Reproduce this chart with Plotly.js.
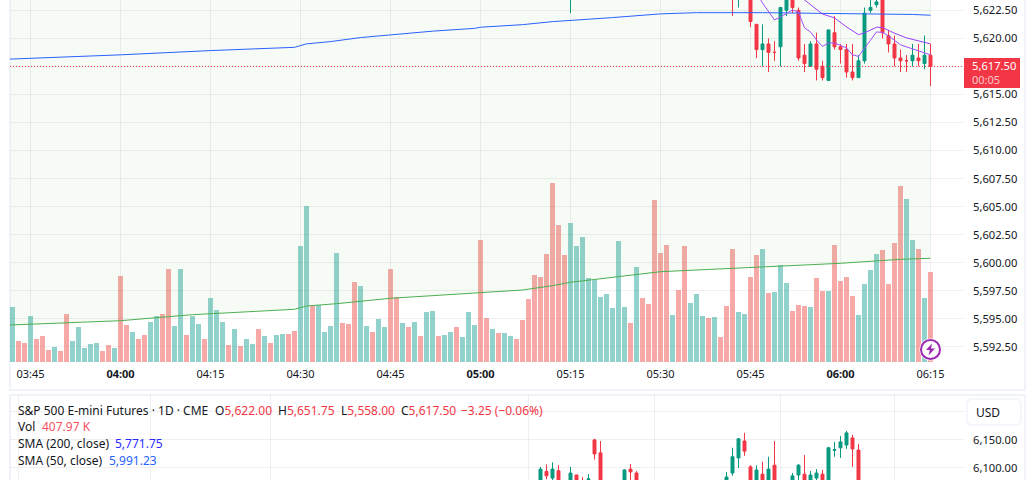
<!DOCTYPE html>
<html><head><meta charset="utf-8">
<script src="https://cdn.plot.ly/plotly-3.0.1.min.js"></script>
<style>html,body{margin:0;padding:0;background:#fff}#c{width:1035px;height:480px}</style>
</head><body><div id="c"></div>
<script>
// Intraday pane: one bar per minute, index 3 = 03:45
const volume=[55,21,19,46,23,26,12,15,11,48,21,35,14,18,19,11,17,14,86,37,30,23,27,40,46,48,93,36,93,27,46,38,23,64,52,40,17,33,16,23,18,33,26,19,27,28,28,31,116,156,56,57,30,36,109,39,38,80,76,36,30,43,35,93,65,39,35,40,26,50,51,26,27,30,35,25,50,37,122,44,33,29,29,26,23,42,63,87,85,108,179,137,107,139,116,125,84,82,65,68,54,121,55,39,95,64,58,162,109,117,47,72,116,59,68,46,44,45,25,56,113,50,48,85,107,113,69,70,97,79,51,57,56,55,84,71,71,117,81,85,66,47,78,92,108,112,78,119,176,163,122,113,64,90];
const volumeDir=["uddudddudd","uuuuuddudd","udduudduud","uuduuududu","ududuudduu","duuuuddduu","duuddududu","uduuduuudd","uduudddddd","ddduuuuuuu","uuududdddd","udduuududd","duudduduuu","dddudduddd","duuuuddddu","udud"].join('');
const volMaIdx=[-0.4167,18,30,33,45,47,49,54,63,78,85,90,93,108,123,138,148,153];
const volMa=[37,41.3,47.3,48.3,52,52.7,56,58.3,63.7,69.3,72,76.3,79.7,90.3,94.3,98.7,102.7,103.7];
const volTop=[362,362,362,362,362,362,362,362,362,362,362,362,362,362,362,362,362,362];

const candleIdx=[93,120,121,123,124,125,126,127,128,129,130,131,132,133,134,135,136,137,138,139,140,141,142,143,144,145,146,147,148,149,150,151,152,153];
const candleO=[5623.5,5624.5,5623.5,5624,5621.25,5619,5619.5,5618.75,5619.25,5622.5,5624,5622.5,5618.5,5617.5,5619.5,5617.5,5616.25,5620.5,5619.25,5619,5617,5616.5,5618,5622.5,5623,5624.5,5620.25,5619.5,5618.25,5618,5618,5618.25,5617.75,5618.5];
const candleH=[5625,5625,5624.5,5624.25,5621.25,5621.25,5620,5619.75,5622.75,5624,5624.25,5622.75,5619.5,5619.75,5620.5,5618,5620.75,5622,5619.5,5619.5,5619.5,5618.5,5622.75,5623.75,5623.75,5625,5620.75,5620.25,5619,5618.5,5619.5,5619.5,5620.25,5619.5];
const candleL=[5622.25,5622,5622.75,5621,5618.25,5617.5,5617,5618,5617.5,5622,5622.25,5618,5617,5617.5,5616.25,5616.25,5616.25,5619,5617.75,5616.5,5616.25,5616.5,5617.75,5622.25,5622.75,5620,5618.75,5617.5,5617,5617,5617.5,5617.5,5617.25,5615.75];
const candleC=[5624,5624,5624,5621.5,5619,5619.5,5618.75,5618.75,5622.75,5623.75,5622.75,5618.25,5617.75,5619.5,5617.25,5616.5,5620.75,5619.25,5619,5617,5616.5,5618,5622.25,5622.75,5623.25,5620.5,5619.5,5618.25,5618,5618,5618.5,5618,5618.5,5617.5];

const sma200Idx=[-0.4167,18,33,47,49,53,58,63,70,77,78,85,90,100,108,114,125,150,153];
const sma200=[5618.15,5618.53,5618.91,5619.2,5619.51,5619.71,5620.07,5620.33,5620.64,5620.89,5620.99,5621.22,5621.49,5621.85,5622.18,5622.29,5622.29,5622.13,5622.06];
const maSlowIdx=[131,132,135,137,139,141,142,144,145,147,149,153];
const maSlow=[5623.72,5623.42,5622.17,5621.82,5621.02,5620.33,5620.49,5620.99,5620.97,5620.46,5620.04,5619.51];
const maFastIdx=[124,125,127,128,130,131,132,133,134,135,136,137,139,140,141,142,144,145,146,148,150,153];
const maFast=[5624.12,5623.15,5621.64,5621.91,5622.53,5622.35,5620.93,5620.57,5619.86,5619.28,5619.59,5619.59,5619.15,5618.53,5618.39,5619.15,5620.57,5620.53,5620.22,5619.42,5619.06,5618.53];
const lastPrice=5617.5;

const priceTickVals=[5592.5,5595,5597.5,5600,5602.5,5605,5607.5,5610,5612.5,5615,5617.5,5620,5622.5];
const priceTickText=['5,592.50','5,595.00','5,597.50','5,600.00','5,602.50','5,605.00','5,607.50','5,610.00','5,612.50','5,615.00','','5,620.00','5,622.50'];
const timeTickIdx=[3,18,33,48,63,78,93,108,123,138,153];
const timeTickText=['03:45','<b>04:00</b>','04:15','04:30','04:45','<b>05:00</b>','05:15','05:30','05:45','<b>06:00</b>','06:15'];

// Daily pane
const dayIdx=[88,89,90,91,93,94,95,96,97,98,102,103,104,119,120,121,122,123,124,125,126,127,130,131,132,133,134,135,136,137,138,139,140,141];
const dayO=[6075,6094,6082,6095,6070,6087.5,6075,6079,6150,6127,6075,6098,6091,6070,6091,6118,6148,6102,6075,6089,6070,6105,6070,6087.5,6089,6070,6082,6089,6070,6131.5,6136,6141,6153.5,6132];
const dayH=[6102,6106.5,6110,6105,6102,6088,6084,6089,6152,6148,6098,6107,6094.5,6093,6136,6153,6162.5,6105,6105,6111,6120,6148,6091,6107,6123,6094.5,6098,6096.5,6137.5,6146.5,6157,6166,6159,6143];
const dayL=[6070,6080,6075,6070,6065,6065,6065,6070,6115,6060,6070,6078,6070,6065,6086,6100,6121.5,6070,6070,6070,6065,6070,6065,6078,6065,6065,6078,6065,6065,6120,6118,6134,6102,6070];
const dayC=[6098,6086,6098,6075,6091,6070,6070,6080.5,6125,6070,6096.5,6093,6075,6084,6120,6152,6130,6075,6096.5,6075,6098,6075,6086,6105,6070,6087.5,6091,6070,6136,6132.5,6146.5,6162.5,6134,6075];
const dayGridIdx=[1,23,43,86,107,128,147];
const dayTickVals=[6100,6150,6200];
const dayTickText=['6,100.00','6,150.00',''];

const UP='#089981',DOWN='#f23645',TXT='#131722',GRID='rgba(42,46,57,0.07)',FRAME='#f0f3fa';
const FONT='"Noto Sans", sans-serif';
const W=1035,H=480,PL=10,PR=964;
const xp=px=>(px-PL)/(PR-PL), yp=py=>1-py/H;
const xr=[-0.4167,158.5833];

const barsOf=d=>{const x=[],y=[];volume.forEach((v,i)=>{if(volumeDir[i]===d){x.push(i);y.push(v);}});return {x,y};};
const vu=barsOf('u'),vd=barsOf('d');
const candle=(xa,ya,x,o,h,l,c)=>({type:'candlestick',xaxis:xa,yaxis:ya,x,open:o,high:h,low:l,close:c,
  increasing:{line:{color:UP,width:1},fillcolor:UP},decreasing:{line:{color:DOWN,width:1},fillcolor:DOWN},
  whiskerwidth:0,hoverinfo:'skip',showlegend:false});
const line=(x,y,color,ya)=>({type:'scatter',mode:'lines',x,y,xaxis:'x',yaxis:ya,line:{color,width:1},hoverinfo:'skip',showlegend:false});

const data=[
 {type:'bar',x:vu.x,y:vu.y,xaxis:'x',yaxis:'y',marker:{color:'rgba(38,166,154,0.5)',line:{width:0}},hoverinfo:'skip',showlegend:false},
 {type:'bar',x:vd.x,y:vd.y,xaxis:'x',yaxis:'y',marker:{color:'rgba(239,83,80,0.5)',line:{width:0}},hoverinfo:'skip',showlegend:false},
 line(volMaIdx,volMa,'#4caf50','y'),
 {type:'scatter',mode:'lines',x:volMaIdx,y:volTop,xaxis:'x',yaxis:'y',line:{width:0,color:'rgba(0,0,0,0)'},fill:'tonexty',fillcolor:'rgba(76,175,80,0.05)',hoverinfo:'skip',showlegend:false},
 line(sma200Idx,sma200,'#2962ff','y2'),
 candle('x','y2',candleIdx,candleO,candleH,candleL,candleC),
 line(maSlowIdx,maSlow,'#9c3fff','y2'),
 line(maFastIdx,maFast,'#a64dff','y2'),
 candle('x2','y3',dayIdx,dayO,dayH,dayL,dayC)
];

const txt=(px,py,text,color,o={})=>Object.assign({xref:'paper',yref:'paper',x:xp(px),y:yp(py),text,showarrow:false,xanchor:'left',yanchor:'middle',
  font:{family:FONT,size:12,color:color||TXT},borderpad:0,borderwidth:0},o);
const rect=(x0,y0,x1,y1,o)=>Object.assign({type:'rect',xref:'paper',yref:'paper',x0:xp(x0),x1:xp(x1),y0:yp(y0),y1:yp(y1)},o);
const pathPx=pts=>'M'+pts.map(p=>xp(p[0])+','+yp(p[1])).join(' L')+' Z';

const shapes=[
 rect(10,-5,1025,390,{line:{color:FRAME,width:2},layer:'below'}),
 rect(10,395,1025,490,{line:{color:FRAME,width:2},layer:'below'}),
 {type:'line',xref:'paper',yref:'y2',x0:0,x1:1,y0:lastPrice,y1:lastPrice,line:{color:DOWN,width:1,dash:'1px,2px'}},
 rect(964,58,1020,88,{fillcolor:DOWN,line:{width:0}}),
 {type:'circle',xref:'paper',yref:'paper',x0:xp(919.5),x1:xp(941.5),y0:yp(338.5),y1:yp(360.5),fillcolor:'#fff',line:{width:0}},
 {type:'circle',xref:'paper',yref:'paper',x0:xp(921),x1:xp(940),y0:yp(340),y1:yp(359),fillcolor:'#fff',line:{color:'#9c27b0',width:2}},
 {type:'path',xref:'paper',yref:'paper',path:pathPx([[932,343.5],[926,350],[929.8,350],[928.5,355.5],[935,348.5],[931,348.5]]),fillcolor:'#9c27b0',line:{width:0}},
 {type:'path',xref:'paper',yref:'paper',path:pathPx([[970,399],[1018,399],[1021,402],[1021,422],[1018,425],[970,425],[967,422],[967,402]]),fillcolor:'#fff',line:{color:FRAME,width:1.5}}
];

const annotations=[
 txt(972,65.5,'5,617.50','#ffffff',{font:{family:FONT,size:11.2,color:'#ffffff'}}),
 txt(972,79.5,'00:05','rgba(255,255,255,0.72)',{font:{family:FONT,size:11,color:'rgba(255,255,255,0.72)'}}),
 txt(18,410,'S&amp;P 500 E-mini Futures · 1D · CME'),
 txt(215,410,'O<span style="color:#f23645">5,622.00</span>'),
 txt(278,410,'H<span style="color:#f23645">5,651.75</span>'),
 txt(341,410,'L<span style="color:#f23645">5,558.00</span>'),
 txt(401,410,'C<span style="color:#f23645">5,617.50</span>'),
 txt(461,410,'−3.25 (−0.06%)','#f23645'),
 txt(18,426.5,'Vol'),
 txt(41.5,426.5,'407.97 K','#f7525f'),
 txt(18,443.5,'SMA (200, close)'),
 txt(115,443.5,'5,771.75','#2a2aff'),
 txt(18,460.5,'SMA (50, close)'),
 txt(108.5,460.5,'5,991.23','#2962ff'),
 txt(976,412,'USD',TXT)
];

const layout={
 width:W,height:H,margin:{l:PL,r:W-PR,t:0,b:0,pad:0},paper_bgcolor:'#fff',plot_bgcolor:'#fff',
 font:{family:FONT,size:12,color:TXT},barmode:'overlay',bargap:1/6,showlegend:false,dragmode:false,
 xaxis:{domain:[0,1],range:xr,anchor:'y',tickmode:'array',tickvals:timeTickIdx,ticktext:timeTickText,showgrid:true,gridcolor:GRID,gridwidth:1,
   zeroline:false,showline:false,ticks:'',ticklabelstandoff:4,rangeslider:{visible:false},tickfont:{family:FONT,size:11,color:TXT},fixedrange:true},
 yaxis:{domain:[yp(362),1],range:[0,362],showgrid:false,zeroline:false,showticklabels:false,ticks:'',showline:false,fixedrange:true},
 yaxis2:{domain:[yp(362),1],overlaying:'y',side:'right',anchor:'x',range:[5591.155,5623.418],tickmode:'array',tickvals:priceTickVals,ticktext:priceTickText,
   showgrid:true,gridcolor:GRID,gridwidth:1,zeroline:false,showline:false,ticks:'',ticklabelstandoff:8,tickfont:{family:FONT,size:11.2,color:TXT},fixedrange:true},
 xaxis2:{domain:[0,1],range:xr,anchor:'y3',tickmode:'array',tickvals:dayGridIdx,showticklabels:false,showgrid:true,gridcolor:GRID,gridwidth:1,
   zeroline:false,ticks:'',rangeslider:{visible:false},fixedrange:true},
 yaxis3:{domain:[0,yp(395)],anchor:'x2',side:'right',range:[6078.6,6230],tickmode:'array',tickvals:dayTickVals,ticktext:dayTickText,
   showgrid:true,gridcolor:GRID,gridwidth:1,zeroline:false,showline:false,ticks:'',ticklabelstandoff:8,tickfont:{family:FONT,size:11.2,color:TXT},fixedrange:true},
 shapes,annotations
};
Plotly.newPlot('c',data,layout,{displayModeBar:false,staticPlot:true});
</script></body></html>
